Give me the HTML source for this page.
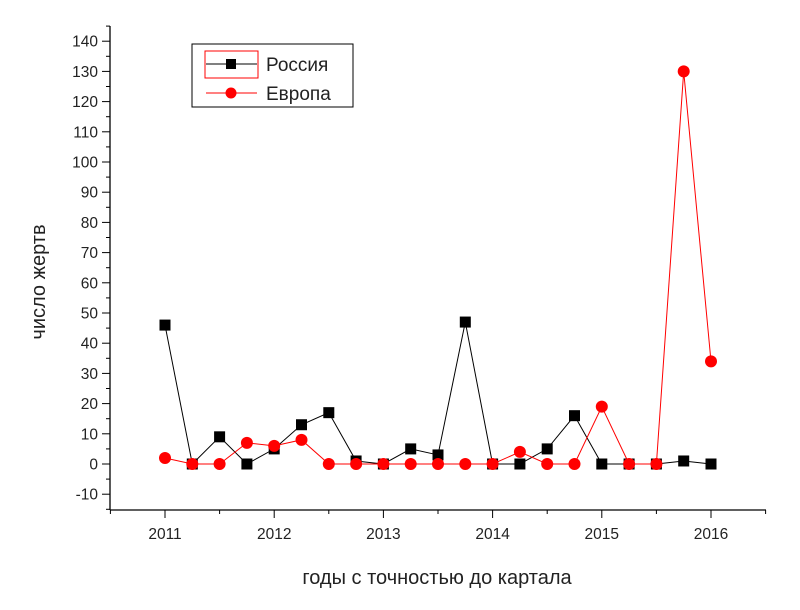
<!DOCTYPE html>
<html><head><meta charset="utf-8"><style>body{margin:0;background:#fff}svg{display:block}text{font-family:"Liberation Sans",Arial,sans-serif;fill:#222}</style></head><body>
<svg id="s" width="800" height="610" xmlns="http://www.w3.org/2000/svg"></svg>
<script>
const s=document.getElementById('s');let h='';
const X=t=>165+(t-2011)*109.2, Y=v=>464-v*3.02;
h+='<line x1="110" y1="26" x2="110" y2="510" stroke="#000" stroke-width="1.3"/>';
h+='<line x1="110" y1="510" x2="766" y2="510" stroke="#000" stroke-width="1.3"/>';
for(let v=-15;v<=145;v+=5){const y=Y(v);const maj=v%10==0;h+=`<line x1="${maj?102:106}" y1="${y}" x2="110" y2="${y}" stroke="#000"/>`;if(maj)h+=`<text x="98" y="${y+5.5}" font-size="15.5" text-anchor="end">${v}</text>`;}
for(let t=2010.5;t<=2016.51;t+=0.5){const x=X(t);const maj=Math.abs(t-Math.round(t))<0.01;h+=`<line x1="${x}" y1="510" x2="${x}" y2="${maj?518:514}" stroke="#000"/>`;if(maj)h+=`<text x="${x}" y="539" font-size="15.5" text-anchor="middle">${Math.round(t)}</text>`;}
h+='<text x="437" y="584" font-size="20" text-anchor="middle">годы с точностью до картала</text>';
h+='<text transform="translate(45,282) rotate(-90)" font-size="20" text-anchor="middle">число жертв</text>';
const r=[46,0,9,0,5,13,17,1,0,5,3,47,0,0,5,16,0,0,0,1,0];
const e=[2,0,0,7,6,8,0,0,0,0,0,0,0,4,0,0,19,0,0,130,34];
const pts=a=>a.map((v,i)=>X(2011+i*0.25)+','+Y(v)).join(' ');
h+=`<polyline points="${pts(r)}" fill="none" stroke="#000" stroke-width="1"/>`;
h+=`<polyline points="${pts(e)}" fill="none" stroke="#f00" stroke-width="1"/>`;
r.forEach((v,i)=>h+=`<rect x="${X(2011+i*0.25)-5.5}" y="${Y(v)-5.5}" width="11" height="11" fill="#000"/>`);
e.forEach((v,i)=>h+=`<circle cx="${X(2011+i*0.25)}" cy="${Y(v)}" r="6" fill="#f00"/>`);
h+='<rect x="192" y="44" width="161" height="63" fill="#fff" stroke="#000" stroke-width="1"/>';
h+='<rect x="205" y="51" width="53" height="27" fill="none" stroke="#f00" stroke-width="1"/>';
h+='<line x1="206" y1="64" x2="257" y2="64" stroke="#000"/><rect x="226" y="59" width="10" height="10" fill="#000"/>';
h+='<line x1="206" y1="93" x2="257" y2="93" stroke="#f00"/><circle cx="231" cy="93" r="5.5" fill="#f00"/>';
h+='<text x="266" y="71" font-size="19">Россия</text><text x="266" y="100" font-size="19">Европа</text>';
s.innerHTML=h;
</script>
</body></html>
